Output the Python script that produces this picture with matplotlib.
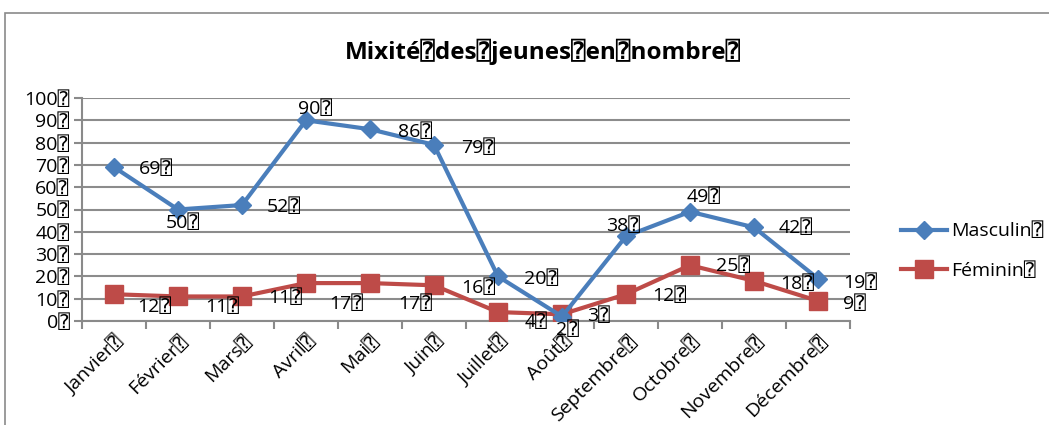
import matplotlib
matplotlib.use("Agg")
import matplotlib.pyplot as plt
from matplotlib.patches import Rectangle
from matplotlib.transforms import ScaledTranslation

BOX = "\u2370"
months = ["Janvier", "Février", "Mars", "Avril", "Mai", "Juin", "Juillet",
          "Août", "Septembre", "Octobre", "Novembre", "Décembre"]
masculin = [69, 50, 52, 90, 86, 79, 20, 2, 38, 49, 42, 19]
feminin = [12, 11, 11, 17, 17, 16, 4, 3, 12, 25, 18, 9]
yticks = [0, 10, 20, 30, 40, 50, 60, 70, 80, 90, 100]
title = "Mixité" + BOX + "des" + BOX + "jeunes" + BOX + "en" + BOX + "nombre" + BOX

# label offsets in pixels (dx, dy up)
off_m = [(42, -2), (5, -14), (42, -2), (9, 11), (45, -3), (44, -3),
         (43, -3), (6, -13), (-3, 10), (14, 15), (42, -1), (42, -4)]
off_f = [(40, -13), (44, -11), (43, -2), (40, -21), (45, -21), (44, -3),
         (38, -10), (37, -2), (43, -2), (43, -1), (43, -3), (36, -3)]

FAM = ["Open Sans", "DejaVu Sans", "DejaVu Sans Mono"]
plt.rcParams['font.family'] = FAM
FS = 14

W, H = 1049, 425
fig = plt.figure(figsize=(W / 100, H / 100), dpi=100)
ax = fig.add_axes([82 / W, 1 - 321 / H, (850 - 82) / W, (321 - 98) / H])

fig.patches.append(Rectangle((5 / W, -0.1), 1.2, 1 - 12.5 / H + 0.1,
                             transform=fig.transFigure, fill=False,
                             edgecolor="#8a8a8a", linewidth=1.2))

blue = "#4A7EBB"
red = "#BE4B48"
x = list(range(len(months)))
ax.plot(x, masculin, color=blue, lw=3, marker="D", ms=9.2, label="Masculin" + BOX, zorder=4)
ax.plot(x, feminin, color=red, lw=3, marker="s", ms=13, label="Féminin" + BOX, zorder=3)

for i, v in enumerate(masculin):
    ax.annotate(f"{v}{BOX}", (i, v), xytext=off_m[i], textcoords="offset pixels",
                ha="center", va="center", fontsize=FS, zorder=6)
for i, v in enumerate(feminin):
    ax.annotate(f"{v}{BOX}", (i, v), xytext=off_f[i], textcoords="offset pixels",
                ha="center", va="center", fontsize=FS, zorder=6)

ax.set_xlim(-0.5, 11.5)
ax.set_ylim(0, 100)
ax.set_yticks(yticks)
ax.set_yticklabels([f"{t}{BOX}" for t in yticks], fontsize=FS)
ax.set_xticks([i - 0.5 for i in range(13)], minor=False)
ax.set_xticklabels([])
ax.set_xticks(x, minor=True)
ax.set_xticklabels([m + BOX for m in months], minor=True, rotation=45,
                   ha="right", rotation_mode="anchor", fontsize=FS)
shift = ScaledTranslation(12 / 100, 0, fig.dpi_scale_trans)
for lab in ax.get_xticklabels(minor=True):
    lab.set_transform(lab.get_transform() + shift)
ax.tick_params(axis="x", which="minor", length=0, pad=8)
ax.tick_params(axis="x", which="major", length=6, width=1.5, color="#8a8a8a")
ax.tick_params(axis="y", length=6, width=1.5, color="#8a8a8a", pad=3)
ax.grid(axis="y", color="#8c8c8c", lw=1.5)
ax.set_axisbelow(True)
for s in ["top", "right"]:
    ax.spines[s].set_visible(False)
for s in ["left", "bottom"]:
    ax.spines[s].set_color("#8a8a8a")
    ax.spines[s].set_linewidth(1.5)

fig.text(543 / W, 1 - 52 / H, title, ha="center", va="center",
         fontsize=17.5, fontweight="bold")

leg = ax.legend(loc="center left", bbox_to_anchor=(891 / W, 1 - 251 / H),
                bbox_transform=fig.transFigure, frameon=False, fontsize=FS,
                handlelength=2.4, handletextpad=0.2, labelspacing=1.1, borderpad=0)

fig.savefig("out.png", dpi=100)
